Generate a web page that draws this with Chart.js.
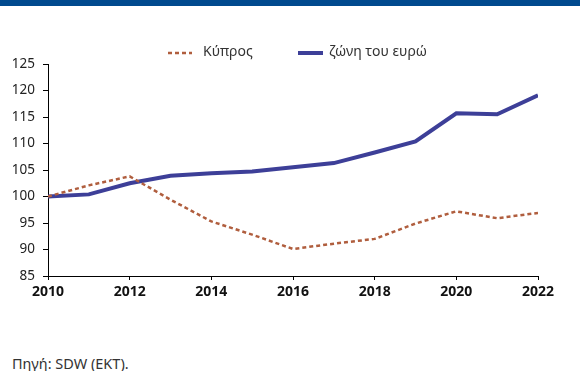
<!DOCTYPE html>
<html>
<head>
<meta charset="utf-8">
<script src="https://cdn.jsdelivr.net/npm/chart.js@4"></script>
<style>
  html, body { margin: 0; padding: 0; background: #fff; }
  body { width: 580px; height: 371px; position: relative; overflow: hidden; font-family: "Noto Sans", sans-serif; }
  .topbar { position: absolute; left: 0; top: 0; width: 580px; height: 6px; background: #004a8e; }
  #wrap { position: absolute; left: 0; top: 0; width: 580px; height: 320px; }
  .source { position: absolute; left: 12px; top: 353px; font-size: 14.5px; color: #333; }
</style>
</head>
<body>
<div class="topbar"></div>
<div id="wrap"><canvas id="chart"></canvas></div>
<div class="source">Πηγή: SDW (EKT).</div>
<script>
// --- data ---
const years = [2010, 2011, 2012, 2013, 2014, 2015, 2016, 2017, 2018, 2019, 2020, 2021, 2022];
const cyprus = [100, 102.1, 103.8, 99.4, 95.3, 92.8, 90.1, 91.1, 92.0, 94.9, 97.2, 95.9, 96.9];
const euroArea = [100, 100.4, 102.5, 103.9, 104.4, 104.7, 105.5, 106.3, 108.3, 110.4, 115.7, 115.5, 119.1];
const seriesNames = ['Κύπρος', 'ζώνη του ευρώ'];

const FONT = '"Noto Sans", sans-serif';

// legend drawn by hand so the dashed sample looks right
const legendPlugin = {
    id: 'manualLegend',
    afterDraw(chart) {
        const ctx = chart.ctx;
        const y = 53;
        const items = [
            { ds: chart.data.datasets[0], x0: 168, x1: 192, tx: 203 },
            { ds: chart.data.datasets[1], x0: 298, x1: 323, tx: 329 }
        ];
        ctx.save();
        items.forEach(it => {
            ctx.beginPath();
            ctx.setLineDash(it.ds.borderDash || []);
            ctx.strokeStyle = it.ds.borderColor;
            ctx.lineWidth = it.ds.borderWidth;
            ctx.moveTo(it.x0, y);
            ctx.lineTo(it.x1, y);
            ctx.stroke();
            ctx.setLineDash([]);
            ctx.fillStyle = '#333';
            ctx.font = '14px ' + FONT;
            ctx.textBaseline = 'middle';
            ctx.fillText(it.ds.label, it.tx, y - 1);
        });
        ctx.restore();
    }
};

const toPoints = vals => years.map((yr, i) => ({ x: yr, y: vals[i] }));

new Chart(document.getElementById('chart'), {
    type: 'line',
    data: {
        datasets: [{
            label: seriesNames[0],
            data: toPoints(cyprus),
            borderColor: '#b05e3e',
            borderWidth: 2.5,
            borderDash: [4, 3],
            pointRadius: 0,
            tension: 0
        }, {
            label: seriesNames[1],
            data: toPoints(euroArea),
            borderColor: '#3d3f98',
            borderWidth: 4,
            pointRadius: 0,
            tension: 0
        }]
    },
    options: {
        responsive: true,
        maintainAspectRatio: false,
        animation: false,
        layout: { padding: { top: 64, right: 42, bottom: 20, left: 0 } },
        plugins: { legend: { display: false }, tooltip: { enabled: false } },
        scales: {
            x: {
                type: 'linear',
                min: 2010,
                max: 2022,
                afterFit: s => { s.height = 24; },
                border: { display: true, color: '#000', width: 1 },
                grid: { drawOnChartArea: false, drawTicks: true, tickLength: 4, color: '#000' },
                ticks: {
                    stepSize: 2,
                    color: '#111',
                    font: { family: FONT, size: 14, weight: 'bold' },
                    padding: 4,
                    callback: v => String(v)
                }
            },
            y: {
                min: 85,
                max: 125,
                afterFit: s => { s.width = 48; },
                border: { display: true, color: '#000', width: 1 },
                grid: { drawOnChartArea: false, drawTicks: true, tickLength: 5, color: '#000' },
                ticks: {
                    stepSize: 5,
                    color: '#222',
                    font: { family: FONT, size: 13.5 },
                    padding: 8
                }
            }
        }
    },
    plugins: [legendPlugin]
});
</script>
</body>
</html>
